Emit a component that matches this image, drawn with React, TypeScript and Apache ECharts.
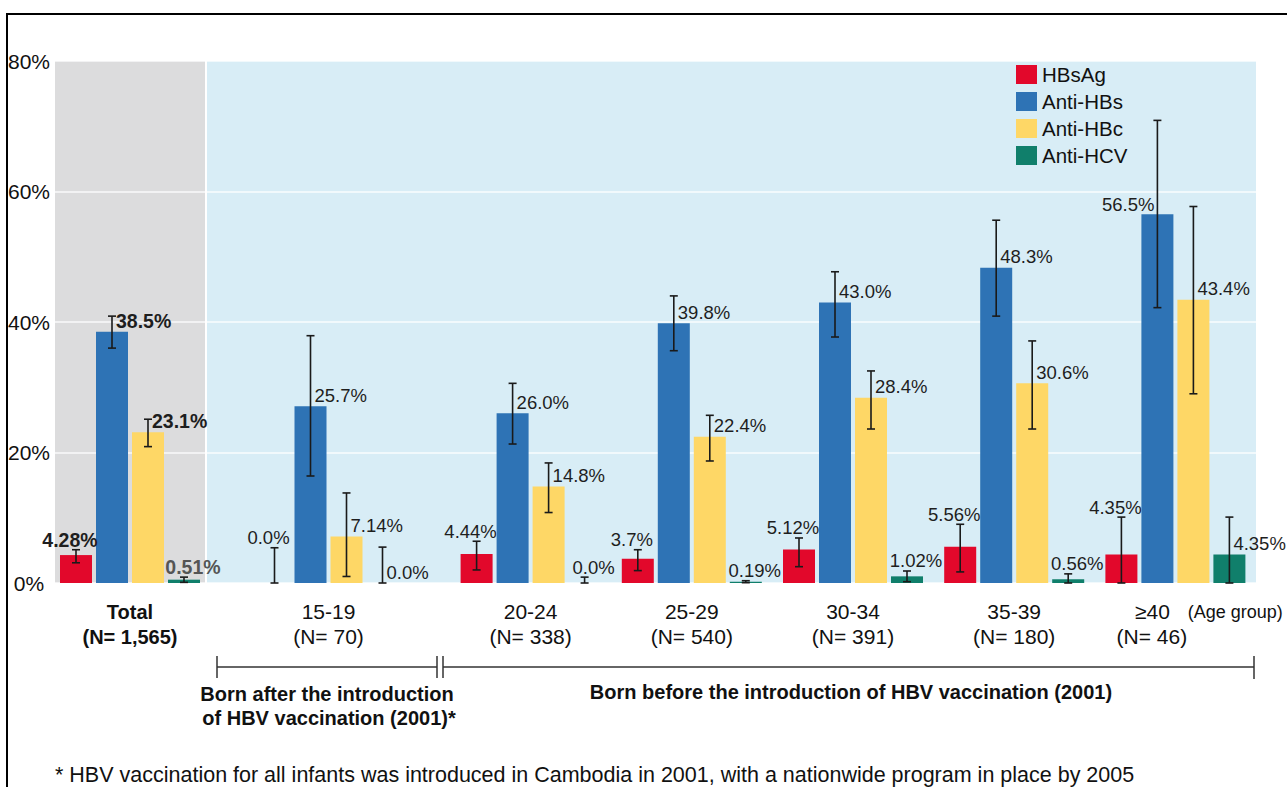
import React, { useEffect, useRef } from "react";
import * as echarts from "echarts";

// ---------------- data ----------------
const groups = ["Total", "15-19", "20-24", "25-29", "30-34", "35-39", "≥40"];
const sampleSizes = ["1,565", "70", "338", "540", "391", "180", "46"];
const seriesNames = ["HBsAg", "Anti-HBs", "Anti-HBc", "Anti-HCV"];

const hbsagValues = [4.28, 0, 4.44, 3.7, 5.12, 5.56, 4.35];
const hbsagLow = [3.1, 0, 2.0, 1.9, 2.5, 1.7, 0];
const hbsagHigh = [5.1, 5.4, 6.4, 5.1, 6.9, 9.0, 10.1];
const hbsagLabels = ["4.28%", "0.0%", "4.44%", "3.7%", "5.12%", "5.56%", "4.35%"];

const antiHbsValues = [38.5, 27.1, 26.0, 39.8, 43.0, 48.3, 56.5];
const antiHbsLow = [36.0, 16.4, 21.3, 35.6, 37.7, 40.9, 42.2];
const antiHbsHigh = [40.9, 37.9, 30.6, 44.0, 47.7, 55.6, 70.9];
const antiHbsLabels = ["38.5%", "25.7%", "26.0%", "39.8%", "43.0%", "48.3%", "56.5%"];

const antiHbcValues = [23.1, 7.14, 14.8, 22.4, 28.4, 30.6, 43.4];
const antiHbcLow = [20.9, 1.0, 10.8, 18.7, 23.6, 23.6, 29.0];
const antiHbcHigh = [25.1, 13.8, 18.4, 25.7, 32.5, 37.1, 57.7];
const antiHbcLabels = ["23.1%", "7.14%", "14.8%", "22.4%", "28.4%", "30.6%", "43.4%"];

const antiHcvValues = [0.51, 0, 0, 0.19, 1.02, 0.56, 4.35];
const antiHcvLow = [0.1, 0, 0, 0.05, 0.2, 0, 0];
const antiHcvHigh = [0.9, 5.5, 0.9, 0.35, 1.84, 1.4, 10.1];
const antiHcvLabels = ["0.51%", "0.0%", "0.0%", "0.19%", "1.02%", "0.56%", "4.35%"];

const yMin = 0;
const yMax = 80;
const yStep = 20;

const bornAfterText = ["Born after the introduction", "of HBV vaccination (2001)*"];
const bornBeforeText = "Born before the introduction of HBV vaccination (2001)";
const footnote =
  "* HBV vaccination for all infants was introduced in Cambodia in 2001, with a nationwide program in place by 2005";

// ---------------- styles / layout ----------------
const FONT = "'Liberation Sans', Arial, Helvetica, sans-serif";
const COLORS = ["#e2082b", "#2e73b5", "#fed766", "#107f6b"];
const gridOf = [0, 1, 2, 2, 2, 2, 2];
const gridDefs = [
  { left: 55, width: 150, bg: "#dcdcdd" },
  { left: 207, width: 243, bg: "#d8edf6" },
  { left: 450, width: 806, bg: "#d8edf6" },
];
const TOP = 61;
const HEIGHT = 522;
const BAR_W = 32;
const BAR_STEP = 36;

// label placement: c = centred above error bar, r = right of error line, l = left of error line
const placements = [
  ["c", "c", "c", "c", "c", "c", "c"],
  ["r", "r", "r", "r", "r", "r", "l"],
  ["r", "r", "r", "r", "r", "r", "r"],
  ["c", "r", "c", "c", "c", "c", "r"],
];
const centreShift = [-6, 0, 0, 9];

const valuesBySeries = [hbsagValues, antiHbsValues, antiHbcValues, antiHcvValues];
const lowBySeries = [hbsagLow, antiHbsLow, antiHbcLow, antiHcvLow];
const highBySeries = [hbsagHigh, antiHbsHigh, antiHbcHigh, antiHcvHigh];
const labelsBySeries = [hbsagLabels, antiHbsLabels, antiHbcLabels, antiHcvLabels];

function buildOption() {
  const grids = gridDefs.map((g) => ({
    left: g.left,
    top: TOP,
    width: g.width,
    height: HEIGHT,
    show: true,
    backgroundColor: g.bg,
    borderWidth: 0,
  }));

  const catFormatter = (val: string) => {
    const k = groups.indexOf(val);
    if (val === "≥40") return `{sp|}≥40{g|}{ag|(Age group)}\n(N= ${sampleSizes[k]}){sp2|}`;
    return `${val}\n(N= ${sampleSizes[k]})`;
  };

  const xAxes = gridDefs.map((_, gi) => ({
    type: "category",
    gridIndex: gi,
    data: groups.filter((_, k) => gridOf[k] === gi),
    axisLine: { show: false },
    axisTick: { show: false },
    axisLabel: {
      interval: 0,
      margin: 16,
      fontSize: gi === 0 ? 20 : 21,
      fontWeight: gi === 0 ? "bold" : "normal",
      color: "#111",
      lineHeight: 25,
      fontFamily: FONT,
      formatter: catFormatter,
      rich: {
        sp: { width: 67, lineHeight: 25 },
        g: { width: 18, lineHeight: 25 },
        ag: { fontSize: 18, lineHeight: 25, color: "#111", fontFamily: FONT },
        sp2: { width: 47, lineHeight: 25 },
      },
    },
  }));

  const yAxes = gridDefs.map((_, gi) => ({
    type: "value",
    gridIndex: gi,
    min: yMin,
    max: yMax,
    interval: yStep,
    axisLine: { show: false },
    axisTick: { show: false },
    axisLabel: {
      show: gi === 0,
      formatter: "{value}%",
      fontSize: 21,
      color: "#111",
      align: "center",
      margin: 26,
      fontFamily: FONT,
    },
    splitLine: { show: true, lineStyle: { color: "rgba(255,255,255,0.85)", width: 1.5 } },
  }));

  const series: any[] = [];
  gridDefs.forEach((_, gi) => {
    seriesNames.forEach((name, s) => {
      series.push({
        type: "bar",
        name,
        xAxisIndex: gi,
        yAxisIndex: gi,
        barWidth: BAR_W,
        barGap: "12.5%",
        itemStyle: { color: COLORS[s] },
        data: valuesBySeries[s].filter((_, k) => gridOf[k] === gi),
        z: 2,
      });
    });
    const data: number[][] = [];
    let cat = 0;
    groups.forEach((_, k) => {
      if (gridOf[k] !== gi) return;
      for (let s = 0; s < 4; s++) {
        data.push([cat, s, valuesBySeries[s][k], lowBySeries[s][k], highBySeries[s][k], k]);
      }
      cat++;
    });
    series.push({
      type: "custom",
      xAxisIndex: gi,
      yAxisIndex: gi,
      silent: true,
      z: 10,
      encode: { x: 0, y: 2 },
      data,
      renderItem: (params: any, api: any) => {
        const c = api.value(0);
        const s = api.value(1);
        const v = api.value(2);
        const lo = api.value(3);
        const hi = api.value(4);
        const k = api.value(5);
        const base = api.coord([c, v]);
        const x = base[0] + (s - 1.5) * BAR_STEP;
        const yTop = base[1];
        const yHi = api.coord([c, hi])[1];
        const yLo = api.coord([c, lo])[1];
        const lineStyle = { stroke: "#1a1a1a", lineWidth: 1.6 };
        const place = placements[s][k];
        let tx = x + 4;
        let ty = yTop - 11;
        let align = "left";
        if (place === "c") {
          tx = x + centreShift[s];
          ty = yHi - 10;
          align = "center";
        } else if (place === "l") {
          tx = x - 3;
          ty = yTop - 10;
          align = "right";
        }
        const isTotal = gi === 0;
        return {
          type: "group",
          children: [
            { type: "line", shape: { x1: x, y1: yLo, x2: x, y2: yHi }, style: lineStyle },
            { type: "line", shape: { x1: x - 4, y1: yHi, x2: x + 4, y2: yHi }, style: lineStyle },
            { type: "line", shape: { x1: x - 4, y1: yLo, x2: x + 4, y2: yLo }, style: lineStyle },
            {
              type: "text",
              x: tx,
              y: ty,
              style: {
                text: labelsBySeries[s][k],
                fontSize: isTotal ? 19.5 : 18.5,
                fontWeight: isTotal ? "bold" : "normal",
                fontFamily: FONT,
                fill: isTotal && s === 3 ? "#555" : "#1e1e1e",
                align,
                textAlign: align,
                verticalAlign: "middle",
                textVerticalAlign: "middle",
              },
            },
          ],
        };
      },
    });
  });

  const lineSt = { stroke: "#333", lineWidth: 1.5 };
  const boldText = (text: string, x: number, y: number) => ({
    type: "text",
    x,
    y,
    style: {
      text,
      fontSize: 20,
      fontWeight: "bold",
      fontFamily: FONT,
      fill: "#111",
      align: "center",
      textAlign: "center",
      verticalAlign: "middle",
      textVerticalAlign: "middle",
    },
  });
  const graphic: any[] = [
    { type: "rect", shape: { x: 7, y: 14, width: 1300, height: 800 }, style: { fill: "none", stroke: "#000", lineWidth: 2 }, z: 100, silent: true },
    { type: "line", shape: { x1: 217, y1: 667, x2: 437, y2: 667 }, style: lineSt },
    { type: "line", shape: { x1: 217, y1: 656, x2: 217, y2: 678 }, style: lineSt },
    { type: "line", shape: { x1: 437, y1: 656, x2: 437, y2: 678 }, style: lineSt },
    { type: "line", shape: { x1: 443, y1: 656, x2: 443, y2: 678 }, style: lineSt },
    { type: "line", shape: { x1: 443, y1: 667, x2: 1254, y2: 667 }, style: lineSt },
    { type: "line", shape: { x1: 1254, y1: 656, x2: 1254, y2: 679 }, style: lineSt },
    boldText(bornAfterText[0], 327, 694),
    boldText(bornAfterText[1], 329, 718),
    boldText(bornBeforeText, 851, 692),
    {
      type: "text", x: 55, y: 775,
      style: { text: footnote, fontSize: 21.5, fontFamily: FONT, fill: "#111", align: "left", textAlign: "left", verticalAlign: "middle", textVerticalAlign: "middle" },
    },
  ];

  return {
    animation: false,
    backgroundColor: "#fff",
    textStyle: { fontFamily: FONT },
    grid: grids,
    xAxis: xAxes,
    yAxis: yAxes,
    legend: {
      data: seriesNames,
      orient: "vertical",
      left: 1011,
      top: 59,
      itemWidth: 21,
      itemHeight: 19,
      itemGap: 6,
      icon: "rect",
      selectedMode: false,
      textStyle: { fontSize: 20.5, color: "#111", fontFamily: FONT },
    },
    series,
    graphic,
  };
}

export default function App() {
  const ref = useRef<HTMLDivElement>(null);
  useEffect(() => {
    if (!ref.current) return;
    const chart = echarts.init(ref.current, null, { renderer: "svg" });
    chart.setOption(buildOption() as any);
    return () => chart.dispose();
  }, []);
  return (
    <div
      ref={ref}
      style={{ position: "fixed", left: 0, top: 0, width: 1287, height: 787, background: "#fff" }}
    />
  );
}
